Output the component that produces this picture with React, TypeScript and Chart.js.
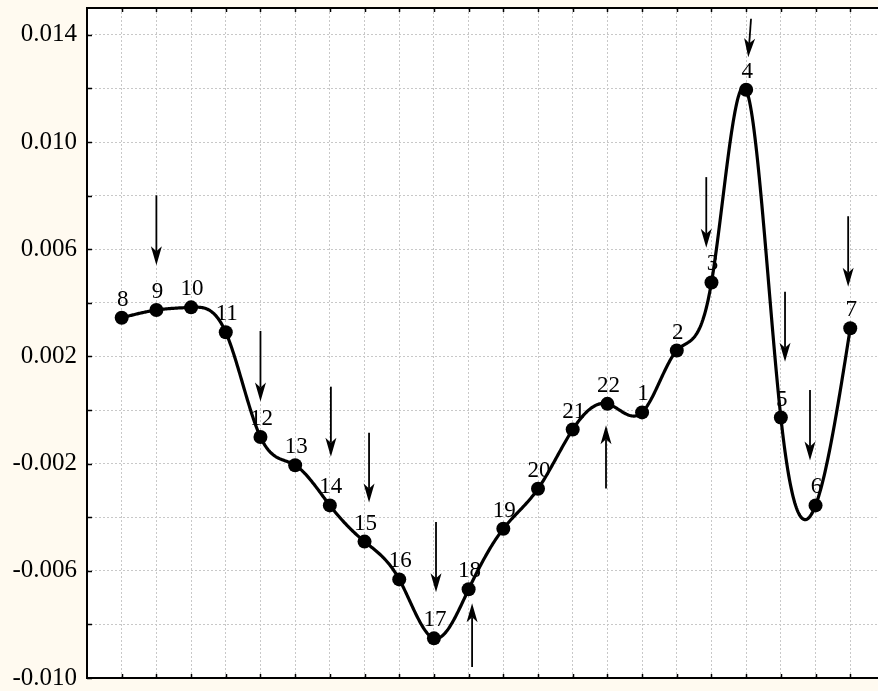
import React, { useEffect, useRef } from "react";
import { Chart, registerables } from "chart.js";

Chart.register(...registerables);

// ---- data ----
const pointLabels = ["8", "9", "10", "11", "12", "13", "14", "15", "16", "17", "18", "19", "20", "21", "22", "1", "2", "3", "4", "5", "6", "7"];
const xPositions = [1, 2, 3, 4, 5, 6, 7, 8, 9, 10, 11, 12, 13, 14, 15, 16, 17, 18, 19, 20, 21, 22];
const values = [0.00344, 0.00373, 0.00383, 0.0029, -0.00101, -0.00206, -0.00356, -0.00491, -0.00632, -0.00852, -0.00669, -0.00443, -0.00294, -0.00073, 0.00023, -0.00009, 0.00222, 0.00476, 0.01195, -0.00028, -0.00356, 0.00305];

const yTickValues = [-0.01, -0.008, -0.006, -0.004, -0.002, 0, 0.002, 0.004, 0.006, 0.008, 0.01, 0.012, 0.014];
const yTickLabels = ["-0.010", "", "-0.006", "", "-0.002", "", "0.002", "", "0.006", "", "0.010", "", "0.014"];

// arrows (in data coordinates)
const arrowXFrom = [2.0, 5.0, 7.03, 8.13, 10.06, 11.1, 14.96, 17.85, 19.14, 20.12, 20.84, 21.94];
const arrowXTo = [2.0, 5.0, 7.03, 8.13, 10.06, 11.1, 14.96, 17.85, 19.06, 20.12, 20.84, 21.94];
const arrowYFrom = [0.00801, 0.00295, 0.00087, -0.00085, -0.00418, -0.00959, -0.00293, 0.00869, 0.0146, 0.00441, 0.00075, 0.00723];
const arrowYTo = [0.0054, 0.00032, -0.00174, -0.00345, -0.0068, -0.00721, -0.00057, 0.00605, 0.01316, 0.0018, -0.00188, 0.0046];

const SERIF = "'Liberation Serif', 'Times New Roman', serif";

function splineSecondDerivs(xs: number[], ys: number[]): number[] {
  const n = xs.length;
  const M = new Array(n).fill(0);
  if (n < 3) return M;
  const h: number[] = [];
  for (let i = 0; i < n - 1; i++) h.push(xs[i + 1] - xs[i]);
  const m = n - 2;
  const a = new Array(m).fill(0);
  const b = new Array(m).fill(0);
  const c = new Array(m).fill(0);
  const d = new Array(m).fill(0);
  for (let k = 0; k < m; k++) {
    const i = k + 1;
    a[k] = h[i - 1];
    b[k] = 2 * (h[i - 1] + h[i]);
    c[k] = h[i];
    d[k] = 6 * ((ys[i + 1] - ys[i]) / h[i] - (ys[i] - ys[i - 1]) / h[i - 1]);
  }
  for (let k = 1; k < m; k++) {
    const w = a[k] / b[k - 1];
    b[k] -= w * c[k - 1];
    d[k] -= w * d[k - 1];
  }
  const sol = new Array(m).fill(0);
  sol[m - 1] = d[m - 1] / b[m - 1];
  for (let k = m - 2; k >= 0; k--) sol[k] = (d[k] - c[k] * sol[k + 1]) / b[k];
  for (let k = 0; k < m; k++) M[k + 1] = sol[k];
  return M;
}

const decorPlugin = {
  id: "decor",
  beforeDraw(chart: any) {
    const { ctx, chartArea } = chart;
    ctx.save();
    ctx.fillStyle = "#FFFAF0";
    ctx.fillRect(0, 0, chart.width, chart.height);
    ctx.fillStyle = "#fff";
    ctx.fillRect(chartArea.left, chartArea.top, chartArea.right - chartArea.left, chartArea.bottom - chartArea.top);
    ctx.restore();
  },
  beforeDatasetsDraw(chart: any) {
    const { ctx, scales } = chart;
    const xs = scales.x;
    const ys = scales.y;
    ctx.save();
    // point labels (under the curve)
    ctx.fillStyle = "#000";
    ctx.font = `23px ${SERIF}`;
    ctx.textAlign = "center";
    ctx.textBaseline = "alphabetic";
    for (let i = 0; i < values.length; i++) {
      const px = xs.getPixelForValue(xPositions[i]);
      const py = ys.getPixelForValue(values[i]);
      ctx.fillText(pointLabels[i], px + 1, py - 12);
    }
    // arrows
    ctx.strokeStyle = "#000";
    ctx.fillStyle = "#000";
    ctx.lineWidth = 1.8;
    for (let i = 0; i < arrowXFrom.length; i++) {
      const x1 = xs.getPixelForValue(arrowXFrom[i]);
      const y1 = ys.getPixelForValue(arrowYFrom[i]);
      const x2 = xs.getPixelForValue(arrowXTo[i]);
      const y2 = ys.getPixelForValue(arrowYTo[i]);
      const dx = x2 - x1;
      const dy = y2 - y1;
      const len = Math.hypot(dx, dy);
      const ux = dx / len;
      const uy = dy / len;
      const nx = -uy;
      const ny = ux;
      const headLen = 19;
      const halfW = 5.5;
      const notch = 5;
      ctx.beginPath();
      ctx.moveTo(x1, y1);
      ctx.lineTo(x2 - ux * (headLen - notch), y2 - uy * (headLen - notch));
      ctx.stroke();
      ctx.beginPath();
      ctx.moveTo(x2, y2);
      ctx.lineTo(x2 - ux * headLen + nx * halfW, y2 - uy * headLen + ny * halfW);
      ctx.lineTo(x2 - ux * (headLen - notch), y2 - uy * (headLen - notch));
      ctx.lineTo(x2 - ux * headLen - nx * halfW, y2 - uy * headLen - ny * halfW);
      ctx.closePath();
      ctx.fill();
    }
    // smooth curve (natural cubic spline through the data)
    const M = splineSecondDerivs(xPositions, values);
    ctx.beginPath();
    ctx.lineWidth = 3.2;
    ctx.lineJoin = "round";
    ctx.lineCap = "round";
    const steps = 40;
    for (let i = 0; i < values.length - 1; i++) {
      const h = xPositions[i + 1] - xPositions[i];
      for (let s = 0; s <= steps; s++) {
        if (i > 0 && s === 0) continue;
        const t = s / steps;
        const xv = xPositions[i] + t * h;
        const yv =
          (1 - t) * values[i] +
          t * values[i + 1] +
          ((h * h) / 6) * ((Math.pow(1 - t, 3) - (1 - t)) * M[i] + (Math.pow(t, 3) - t) * M[i + 1]);
        const px = xs.getPixelForValue(xv);
        const py = ys.getPixelForValue(yv);
        if (i === 0 && s === 0) ctx.moveTo(px, py);
        else ctx.lineTo(px, py);
      }
    }
    ctx.stroke();
    ctx.restore();
  },
  afterDraw(chart: any) {
    const { ctx, chartArea, scales } = chart;
    const { left, right, top, bottom } = chartArea;
    ctx.save();
    ctx.strokeStyle = "#000";
    ctx.lineWidth = 2;
    ctx.beginPath();
    ctx.moveTo(right + 2, top);
    ctx.lineTo(left, top);
    ctx.lineTo(left, bottom);
    ctx.lineTo(right + 2, bottom);
    ctx.stroke();
    ctx.lineWidth = 1.5;
    ctx.beginPath();
    for (const v of yTickValues) {
      const py = Math.round(scales.y.getPixelForValue(v)) + 0.5;
      ctx.moveTo(left, py);
      ctx.lineTo(left + 5, py);
    }
    for (const v of xPositions) {
      const px = Math.round(scales.x.getPixelForValue(v)) + 0.5;
      ctx.moveTo(px, top);
      ctx.lineTo(px, top + 4);
      ctx.moveTo(px, bottom);
      ctx.lineTo(px, bottom - 4);
    }
    ctx.stroke();
    ctx.restore();
  },
};

export default function App() {
  const canvasRef = useRef<HTMLCanvasElement | null>(null);

  useEffect(() => {
    if (!canvasRef.current) return;
    const chart = new Chart(canvasRef.current, {
      type: "line",
      data: {
        datasets: [
          {
            data: values.map((v, i) => ({ x: xPositions[i], y: v })),
            showLine: false,
            pointRadius: 7,
            pointBackgroundColor: "#000",
            pointBorderWidth: 0,
            pointHoverRadius: 7,
            clip: false,
          },
        ],
      },
      options: {
        animation: false,
        responsive: false,
        events: [],
        layout: { autoPadding: false, padding: { top: 8, right: 0, bottom: 0, left: 0 } },
        plugins: { legend: { display: false }, tooltip: { enabled: false }, title: { display: false } },
        scales: {
          x: {
            type: "linear",
            min: 0,
            max: 22.8,
            afterBuildTicks: (scale: any) => {
              scale.ticks = xPositions.map((v) => ({ value: v }));
            },
            afterFit: (scale: any) => {
              scale.height = 13;
              scale.paddingLeft = 0;
              scale.paddingRight = 0;
              scale.paddingTop = 0;
              scale.paddingBottom = 0;
            },
            ticks: { display: false },
            border: { display: false, dash: [2, 2] },
            grid: { color: "#c8c8c8", lineWidth: 1, drawTicks: false },
          },
          y: {
            type: "linear",
            min: -0.01,
            max: 0.015,
            afterBuildTicks: (scale: any) => {
              scale.ticks = yTickValues.map((v) => ({ value: v }));
            },
            afterFit: (scale: any) => {
              scale.width = 87;
              scale.paddingLeft = 0;
              scale.paddingRight = 0;
              scale.paddingTop = 0;
              scale.paddingBottom = 0;
            },
            ticks: {
              padding: 10,
              color: "#000",
              font: { family: SERIF, size: 25 },
              callback: (_v: any, idx: number) => yTickLabels[idx],
            },
            border: { display: false, dash: [2, 2] },
            grid: { color: "#c8c8c8", lineWidth: 1, drawTicks: false },
          },
        },
      },
      plugins: [decorPlugin],
    } as any);
    return () => chart.destroy();
  }, []);

  return (
    <div
      style={{
        position: "fixed",
        left: 0,
        top: 0,
        width: 878,
        height: 691,
        background: "#FFFAF0",
      }}
    >
      <canvas ref={canvasRef} width={878} height={691} style={{ display: "block", width: 878, height: 691 }} />
    </div>
  );
}
